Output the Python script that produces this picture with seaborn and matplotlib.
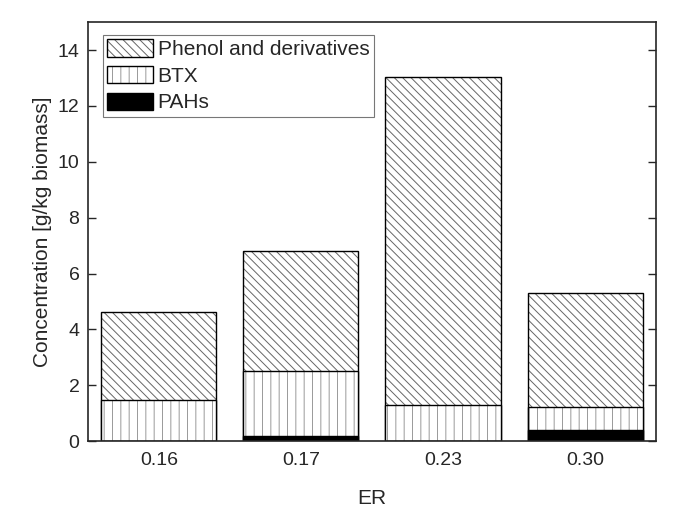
import matplotlib
matplotlib.use("Agg")
import matplotlib.pyplot as plt
import matplotlib.colors as mcolors
import seaborn as sns
import pandas as pd
from matplotlib.patches import Patch

# data
er = ["0.16", "0.17", "0.23", "0.30"]
pahs = [0.0, 0.2, 0.0, 0.39]
btx = [1.46, 2.3, 1.29, 0.82]
phenol = [3.18, 4.29, 11.76, 4.08]

df = pd.DataFrame({"ER": er, "PAHs": pahs, "BTX": btx, "Phenol": phenol})
df["btx_top"] = df["PAHs"] + df["BTX"]
df["total"] = df["btx_top"] + df["Phenol"]

sns.set_style("ticks")
plt.rcParams["font.family"] = ["Liberation Sans", "DejaVu Sans"]
plt.rcParams["hatch.linewidth"] = 0.7


def hatch_colour(p, c):
    if hasattr(p, "set_hatchcolor"):
        p.set_hatchcolor(c)
    else:
        p._hatch_color = mcolors.to_rgba(c)


fig = plt.figure(figsize=(6.8, 5.13), dpi=100)
ax = fig.add_axes([0.129, 0.140, 0.836, 0.817])

# stacked bars drawn as overlapping cumulative layers
sns.barplot(data=df, x="ER", y="total", order=er, color="white", edgecolor="black",
            linewidth=1.0, hatch="\\\\\\\\", width=0.81, ax=ax, saturation=1)
sns.barplot(data=df, x="ER", y="btx_top", order=er, color="white", edgecolor="black",
            linewidth=1.0, hatch="||", width=0.81, ax=ax, saturation=1)
sns.barplot(data=df, x="ER", y="PAHs", order=er, color="black", edgecolor="black",
            linewidth=1.0, width=0.81, ax=ax, saturation=1)

n = len(er)
for i, p in enumerate(ax.patches):
    if i < n:
        hatch_colour(p, "#666666")
    elif i < 2 * n:
        hatch_colour(p, "#999999")

ax.set_xlim(-0.5, 3.5)
ax.set_ylim(0, 15)
ax.set_yticks(range(0, 15, 2))
ax.set_xlabel("ER", fontsize=15, labelpad=14)
ax.set_ylabel("Concentration [g/kg biomass]", fontsize=15, labelpad=4)
ax.tick_params(axis="x", length=0, labelsize=14, pad=8)
ax.tick_params(axis="y", direction="in", length=6, labelsize=14, pad=6,
               right=True, width=1.0)
for s in ax.spines.values():
    s.set_visible(True)
    s.set_linewidth(1.2)

handles = [
    Patch(facecolor="white", edgecolor="black", hatch="\\\\\\\\", label="Phenol and derivatives"),
    Patch(facecolor="white", edgecolor="black", hatch="||", label="BTX"),
    Patch(facecolor="black", edgecolor="black", label="PAHs"),
]
leg = ax.legend(handles=handles, loc="upper left", bbox_to_anchor=(0.026, 0.969), fontsize=15,
                frameon=True, fancybox=False, edgecolor="#777777", framealpha=1,
                handlelength=2.2, handleheight=0.9, handletextpad=0.25, labelspacing=0.33,
                borderpad=0.2, borderaxespad=0.0)
leg.get_frame().set_linewidth(0.8)
for h, c in zip(leg.get_patches(), ["#666666", "#999999"]):
    hatch_colour(h, c)

fig.savefig("out.png", dpi=100)
